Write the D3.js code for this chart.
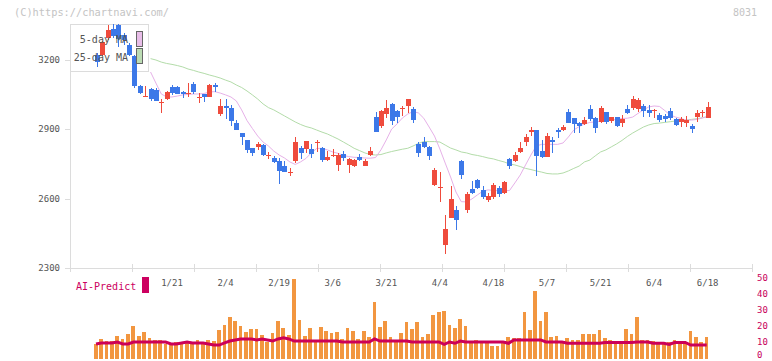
<!DOCTYPE html>
<html><head><meta charset="utf-8">
<script src="https://cdn.jsdelivr.net/npm/d3@7"></script>
<style>html,body{margin:0;padding:0;background:#fff;} svg{display:block;font-family:"DejaVu Sans Mono",monospace;}</style>
</head><body><svg id="c" width="772" height="361"></svg>
<script>
// ---- data ----
const tickIdx = [14,24,34,44,54,64,74,84,94,104,114];
const tickLabels = ["1/21","2/4","2/19","3/6","3/21","4/4","4/18","5/7","5/21","6/4","6/18"];
const priceTicks = [2300,2600,2900,3200];
const volTicks = [0,10,20,30,40,50];

const open = [3222,3222,3294,3334,3351,3308,3265,3217,3087,3042,3075,3070,3016,3031,3084,3084,3062,3055,3096,3036,
3053,3041,3092,2966,3002,2992,2929,2885,2854,2818,2825,2832,2785,2775,2763,2741,2711,2761,2819,2815,
2815,2843,2821,2767,2787,2746,2793,2746,2743,2782,2743,2789,2955,2914,2968,3010,2979,2990,3001,2988,
2835,2846,2825,2659,2647,2400,2518,2551,2763,2551,2642,2681,2638,2594,2609,2646,2625,2772,2764,2803,
2846,2890,2897,2806,2782,2852,2897,2897,2976,2948,2929,2922,2988,2950,2933,2974,2936,2952,2929,2988,
2991,2986,3001,2984,2978,2962,2958,2979,2945,2933,2929,2914,2955,2970,2950];
const high = [3230,3282,3351,3356,3356,3317,3274,3222,3092,3087,3079,3079,3031,3067,3092,3087,3067,3099,3106,3059,
3053,3096,3102,3031,3031,3005,2940,2885,2854,2819,2845,2837,2803,2785,2775,2763,2733,2868,2829,2850,
2837,2854,2825,2806,2815,2798,2806,2775,2772,2793,2772,2825,2975,2984,3027,3015,2984,3001,3031,2998,
2846,2868,2829,2731,2717,2529,2655,2568,2767,2630,2676,2685,2655,2625,2669,2655,2676,2777,2803,2844,
2880,2909,2897,2854,2885,2868,2904,2919,2988,2948,2933,2952,3005,2955,3002,2976,2955,2955,2962,3005,
3044,3034,3010,3005,2987,2969,2966,2991,2950,2952,2958,2923,2984,2984,3020];
const low = [3170,3217,3287,3295,3256,3265,3217,3079,3053,3040,3023,3023,2971,3027,3049,3051,3034,3039,3053,3013,
3020,3040,3063,2958,2943,2916,2897,2832,2799,2785,2811,2785,2770,2754,2663,2715,2698,2754,2770,2798,
2776,2803,2759,2763,2782,2721,2763,2712,2738,2763,2741,2785,2888,2904,2948,2919,2929,2958,2972,2929,
2782,2818,2767,2655,2587,2361,2516,2464,2685,2538,2620,2642,2599,2587,2599,2609,2620,2727,2760,2796,
2828,2872,2699,2775,2782,2796,2861,2894,2929,2883,2883,2919,2937,2885,2926,2922,2929,2911,2911,2966,
2984,2974,2955,2952,2948,2930,2933,2940,2916,2911,2911,2885,2933,2955,2950];
const close = [3191,3277,3330,3304,3290,3287,3222,3087,3056,3046,3031,3024,3020,3063,3056,3053,3053,3059,3063,3041,
3041,3092,3084,3001,2991,2937,2897,2866,2811,2799,2837,2789,2789,2759,2721,2717,2715,2844,2799,2850,
2793,2847,2767,2779,2791,2789,2776,2770,2766,2767,2763,2806,2890,2979,2994,2937,2952,2994,3031,2940,
2799,2822,2785,2724,2651,2469,2599,2508,2702,2620,2625,2647,2609,2612,2659,2622,2671,2743,2789,2821,
2868,2897,2786,2782,2872,2847,2890,2911,2929,2922,2916,2940,2945,2907,2991,2930,2952,2914,2945,2969,
3031,3025,2981,2969,2983,2940,2946,2948,2919,2945,2940,2901,2972,2974,2998];

const ma5 = [null,null,null,null,null,null,null,null,null,null,
3148,3100,3053,3040,3040,3044,3049,3051,3053,3053,
3055,3062,3063,3057,3049,3040,3023,2984,2938,2904,
2871,2845,2828,2806,2789,2776,2759,2748,2759,2774,
2798,2817,2818,2811,2802,2796,2787,2782,2779,2778,
2776,2775,2778,2811,2854,2901,2923,2949,2966,2977,
2971,2948,2910,2871,2815,2754,2694,2629,2587,2586,
2599,2616,2632,2638,2636,2634,2635,2635,2668,2702,
2746,2789,2828,2835,2835,2835,2835,2841,2867,2897,
2912,2923,2930,2932,2935,2937,2940,2943,2947,2948,
2953,2969,2984,2997,3001,2999,2981,2962,2953,2947,
2940,2940,2943,2949,2956];
const ma25 = [null,null,null,null,null,null,null,null,null,null,
3206,3200,3191,3185,3181,3176,3170,3161,3155,3148,
3142,3135,3129,3122,3113,3105,3092,3081,3066,3049,
3031,3010,2994,2984,2971,2958,2945,2932,2921,2912,
2906,2897,2888,2880,2869,2858,2845,2832,2818,2808,
2798,2791,2789,2791,2798,2804,2809,2814,2818,2828,
2839,2847,2847,2847,2845,2832,2819,2811,2802,2798,
2791,2787,2782,2776,2772,2765,2759,2750,2746,2739,
2731,2726,2720,2715,2709,2707,2707,2711,2720,2731,
2741,2759,2767,2785,2802,2811,2824,2837,2852,2869,
2884,2897,2910,2919,2925,2927,2930,2933,2936,2938,
2940,2943,2946,2950,2955];

const volume = [8.8,11.9,10.6,10.6,13.8,11.9,15,20,13.8,16.5,
12.5,11.3,11.3,8.8,8.8,10,10,10,10,11.3,
10,11.3,10.6,17.5,20.6,25.6,23.1,20,16.3,18.1,
18.1,14.4,10,15.6,23.1,18.8,14.4,49.4,23.8,13.8,
18.8,11.3,19.4,16.9,15.6,16.3,11.9,18.8,16.9,11.9,
16.9,13.1,35,19.4,23.1,13.1,10.6,15.6,22.5,18.1,
22.5,13.1,15,26.9,28.8,29.4,20.6,18.8,24.4,20,
10,11.3,10,10,7.5,7.5,10,13.1,12.5,12.5,
28.8,17.5,41.9,23.1,28.8,13.1,13.8,10,12.5,11.3,
11.3,15,15,15,17.5,12.5,11.3,8.8,10,18.1,
15,25.6,11.3,11.3,10.6,10,8.8,10,11.3,10,
10,16.9,13.1,10,13.1];
const aiPredict = [8.8,9.4,9.4,9.4,10,8.8,8.8,10,10,10,
10,10,10,10,8.8,8.8,9.4,10,9.4,9.4,
9.4,8.8,8.1,8.1,9.4,10.6,11.3,11.9,11.9,11.9,
11.3,11.9,11.3,10.6,11.9,12.7,11.9,10.6,10.6,10.6,
10.6,10.6,10.6,10.6,10.6,10.6,10,10,10,10,
10,10,11.9,10.6,10.6,10.6,10.6,10.6,10.6,10,
10,10,10,10,10,8.5,10,9.2,10.6,10,
10,10,10,10,10,10,10,9.2,11.3,11.3,
11.3,11.3,11.3,11.3,10,10,10,10,9.2,9.2,
9.2,9.2,9.2,9.2,9.2,9.7,9.7,9.7,9.7,9.7,
9.7,10,10,10,9.2,9.2,9.2,8.5,9.7,9.7,
9.7,8.1,8.1,8.1,8.1];

// ---- drawing ----
const svg = d3.select('#c');
const n = close.length;
const x = d3.scaleLinear().domain([0, n-1]).range([97, 707.7]);
const y = d3.scaleLinear().domain([2300, 3200]).range([268, 60]);
const yv = d3.scaleLinear().domain([0, 50]).range([358, 278]);
const grid = d3.scaleLinear().domain([0, 11]).range([70, 752]);

const axisCol = '#dcdcdc';
const textCol = '#555';
const upCol = '#ef4b3c', dnCol = '#3c78e8';
const idx = d3.range(n);

// x axis
const gx = svg.append('g').attr('shape-rendering','crispEdges');
gx.append('line').attr('x1',70).attr('x2',752).attr('y1',268.5).attr('y2',268.5).attr('stroke',axisCol);
gx.selectAll('line.t').data(d3.range(12)).join('line').attr('class','t')
  .attr('x1',d=>Math.round(grid(d))+0.5).attr('x2',d=>Math.round(grid(d))+0.5)
  .attr('y1',264).attr('y2',272).attr('stroke',axisCol);
svg.append('g').selectAll('text').data(tickIdx).join('text')
  .attr('x',d=>x(d)).attr('y',286).attr('text-anchor','middle')
  .attr('font-size',9).attr('fill',textCol).text((d,i)=>tickLabels[i]);

// y axis
const gy = svg.append('g').attr('shape-rendering','crispEdges');
gy.append('line').attr('x1',70.5).attr('x2',70.5).attr('y1',24).attr('y2',268).attr('stroke',axisCol);
gy.selectAll('line.t').data(priceTicks).join('line').attr('class','t')
  .attr('x1',65).attr('x2',70).attr('y1',d=>Math.round(y(d))+0.5).attr('y2',d=>Math.round(y(d))+0.5).attr('stroke',axisCol);
svg.append('g').selectAll('text').data(priceTicks).join('text')
  .attr('x',60).attr('y',d=>y(d)).attr('dy','0.35em').attr('text-anchor','end')
  .attr('font-size',9).attr('fill',textCol).text(d=>d);

// moving averages
const maLine = arr => d3.line().defined(i=>arr[i]!=null).x(i=>x(i)).y(i=>y(arr[i]))(idx);
svg.append('path').attr('d',maLine(ma25)).attr('fill','none').attr('stroke','#b3dca9').attr('stroke-width',1);
svg.append('path').attr('d',maLine(ma5)).attr('fill','none').attr('stroke','#e6b1e8').attr('stroke-width',1);

// legend box (covers lines)
svg.append('rect').attr('x',70.5).attr('y',24.5).attr('width',78).attr('height',47)
  .attr('fill','#fff').attr('stroke',axisCol).attr('shape-rendering','crispEdges');

// candles
const gc = svg.append('g').attr('shape-rendering','crispEdges');
gc.selectAll('line').data(idx).join('line')
  .attr('x1',i=>Math.round(x(i))+0.5).attr('x2',i=>Math.round(x(i))+0.5)
  .attr('y1',i=>y(high[i])).attr('y2',i=>y(low[i]))
  .attr('stroke',i=>close[i]>=open[i]?upCol:dnCol).attr('stroke-width',1);
gc.selectAll('rect').data(idx).join('rect')
  .attr('x',i=>Math.round(x(i))-2).attr('width',5)
  .attr('y',i=>y(Math.max(open[i],close[i])))
  .attr('height',i=>Math.max(1, Math.abs(y(open[i])-y(close[i]))))
  .attr('fill',i=>close[i]>=open[i]?upCol:dnCol);

// legend text + swatches
svg.append('text').attr('x',128).attr('y',43).attr('text-anchor','end').attr('font-size',10).attr('fill',textCol).text('5-day MA');
svg.append('text').attr('x',128).attr('y',61).attr('text-anchor','end').attr('font-size',10).attr('fill',textCol).text('25-day MA');
svg.append('rect').attr('x',136.5).attr('y',31.5).attr('width',6).attr('height',15).attr('fill','#e8bde8').attr('stroke','#666').attr('shape-rendering','crispEdges');
svg.append('rect').attr('x',136.5).attr('y',48.5).attr('width',6).attr('height',15).attr('fill','#bcdcb4').attr('stroke','#666').attr('shape-rendering','crispEdges');

// volume
svg.append('g').attr('shape-rendering','crispEdges').selectAll('rect').data(idx).join('rect')
  .attr('x',i=>x(i)-3).attr('width',3.7)
  .attr('y',i=>yv(volume[i])).attr('height',i=>yv(0)-yv(volume[i])+1)
  .attr('fill','#f29640');
svg.append('path').attr('d',d3.line().x(i=>x(i)-1).y(i=>yv(aiPredict[i]))(idx))
  .attr('fill','none').attr('stroke','#cc0058').attr('stroke-width',3);

svg.append('g').selectAll('text').data(volTicks).join('text')
  .attr('x',757).attr('y',d=>Math.min(yv(d), 355)).attr('dy','0.35em')
  .attr('font-size',9).attr('fill','#c8005a').text(d=>d);

svg.append('text').attr('x',76).attr('y',289.5).attr('font-size',10).attr('fill','#cc0060').text('AI-Predict');
svg.append('rect').attr('x',142).attr('y',277).attr('width',7).attr('height',16).attr('fill','#cc0060');

// watermark & code
svg.append('text').attr('x',14).attr('y',16).attr('font-size',10.3).attr('fill','#c4c4c4').text('(C)https://chartnavi.com/');
svg.append('text').attr('x',757).attr('y',16).attr('text-anchor','end').attr('font-size',10).attr('fill','#c4c4c4').text('8031');
</script></body></html>
